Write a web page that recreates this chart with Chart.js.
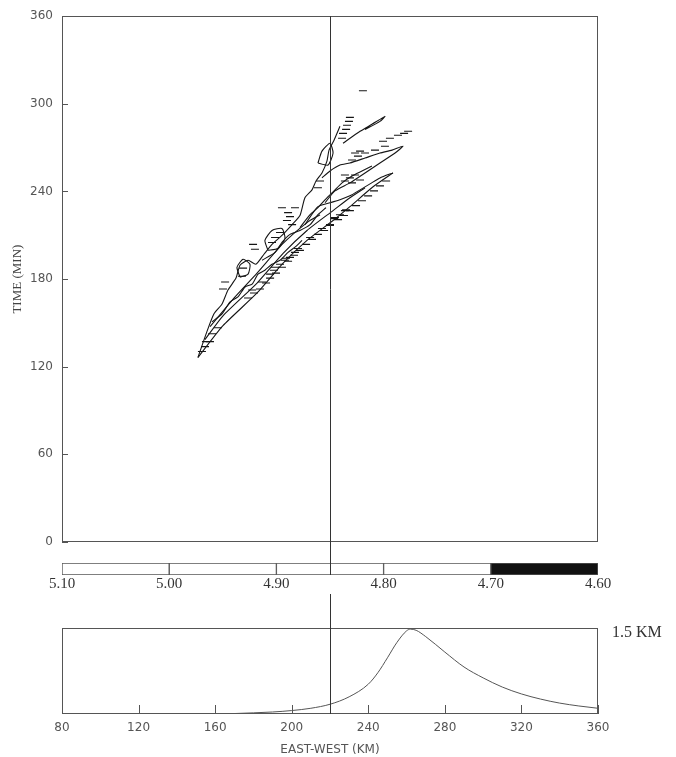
<!DOCTYPE html>
<html>
<head>
<meta charset="utf-8">
<script src="https://cdn.jsdelivr.net/npm/chart.js@4"></script>
<style>
  body{margin:0;background:#fff;width:676px;height:757px;position:relative;overflow:hidden}
  canvas{position:absolute;left:0}
</style>
</head>
<body>
<canvas id="main" width="676" height="563" style="top:0"></canvas>
<canvas id="cbar" width="676" height="38" style="top:562px"></canvas>
<canvas id="terrain" width="676" height="165" style="top:592px"></canvas>
<script>
// axis ticks
const timeTicks=[0,60,120,180,240,300,360];
const distTicks=[80,120,160,200,240,280,320,360];
const cbTicks=[5.10,5.00,4.90,4.80,4.70,4.60];
const cbColors=['#fff','#fff','#fff','#fff','#111'];
const markerKm=220;
const markerCb=4.85;

// contour streaks (km, min)
const edgeLowKm=[151.0,164.1,181.9,195.5,208.0,221.6,230.4,242.5,252.9];
const edgeLowMin=[126.3,148.1,170.5,190.9,206.5,220.1,229.6,243.2,252.7];
const edgeUpKm=[151.0,155.7,159.4,163.6,166.7,170.9,173.0,177.2,181.3,185.5,189.7,194.9,200.2,204.3,206.9,210.6,212.7,215.8,218.4,219.5,222.1,225.2];
const edgeUpMin=[126.3,144.0,156.2,163.0,172.5,180.7,189.5,192.9,190.2,197.0,203.8,209.9,217.3,223.5,235.7,241.1,247.2,252.7,260.8,268.3,275.1,284.6];
const branch1Km=[252.9,246.1,240.9,235.7,230.4,225.2,220.0,213.7,206.9];
const branch1Min=[252.7,249.3,245.2,241.1,237.0,234.3,232.3,229.6,217.3];
const branch2Km=[217.4,222.6,230.4,238.3,246.1,254.0,258.1,252.4,246.1,238.3,230.4,225.2,220.0,215.8];
const branch2Min=[232.3,240.4,245.9,252.7,259.5,266.3,271.0,268.3,266.3,262.9,259.5,258.1,254.0,249.3];
const branch3Km=[226.8,235.7,241.9,248.7,246.1,238.3];
const branch3Min=[273.0,281.2,286.0,291.4,288.0,282.5];
const inner1Km=[154.7,164.1,181.9,195.5,208.0,221.6,230.4,238.3];
const inner1Min=[138.6,154.9,177.3,197.6,213.3,226.9,235.7,242.5];
const inner2Km=[157.3,170.4,181.9,195.5,208.0,214.8];
const inner2Min=[147.4,167.8,184.1,204.4,218.7,224.1];
const inner3Km=[158.4,163.6,167.8,171.9,175.6,179.3,182.4,186.0,189.7,193.9,198.1,202.2,205.4];
const inner3Min=[150.8,156.2,164.4,167.8,174.6,176.6,183.4,186.1,190.2,192.9,198.3,202.4,206.5];
const inner4Km=[204.3,209.6,213.7,217.9,222.1,226.3,231.5,236.7,241.9];
const inner4Min=[215.3,224.1,228.9,235.0,240.4,245.9,250.6,254.0,257.4];
const inner5Km=[184.5,191.3,194.9,199.1,204.3,209.6,213.7,217.9];
const inner5Min=[192.9,198.3,205.1,210.6,213.3,217.3,224.1,228.9];
const loop1Km=[187.6,186.0,189.7,194.9,196.5,192.8,187.6];
const loop1Min=[199.7,206.5,213.3,214.6,207.8,201.0,199.7];
const loop2Km=[173.0,171.4,174.6,178.2,177.2,173.0];
const loop2Min=[181.3,188.1,193.6,190.2,183.4,181.3];
const loop3Km=[213.7,215.8,220.0,221.6,219.0,213.7];
const loop3Min=[259.5,267.6,273.0,266.3,258.1,259.5];

// short hatch strokes (km, min)
const hatchKm=[230.4,229.9,228.9,228.4,226.8,226.3,255.5,258.7,260.8,251.3,247.7,233.1,235.7,234.6,238.3,231.5,243.5,248.7,
  227.8,230.4,233.1,227.8,231.5,235.7,214.8,213.7,198.1,199.1,197.5,200.2,191.3,193.9,189.7,174.6,174.0,179.8,180.8,165.2,164.1,
  194.9,201.7,237.2,191.3,193.9,196.5,199.1,201.7,188.7,222.6,225.2,227.8,220.0,154.7,157.3,153.1,
  177.2,180.3,183.4,186.6,188.7,191.8,194.9,198.1,201.2,204.3,207.5,210.6,213.7,216.9,220.0,224.2,227.3,230.4,233.6,236.7,239.9,243.0,246.1,249.3,
  179.3,184.5,190.7,197.0,203.3,209.6,215.8,222.1,228.4,155.2,158.4,161.5];
const hatchMin=[290.7,288.0,285.3,282.5,279.8,276.4,278.5,279.8,281.2,276.4,274.4,266.3,267.6,264.2,266.3,261.5,268.3,271.0,
  251.3,249.3,251.3,247.2,245.9,247.9,247.2,242.5,225.5,222.8,220.1,217.3,208.5,211.9,205.1,187.5,182.0,203.8,200.4,178.0,173.2,
  228.9,228.9,309.0,188.1,190.2,192.9,194.9,198.3,183.4,222.1,224.1,226.9,217.3,133.8,137.2,130.4,
  167.1,170.5,173.2,177.3,180.7,184.1,188.1,192.2,196.3,199.7,203.8,207.2,210.6,213.3,216.7,220.7,223.5,226.9,230.3,233.6,237.0,240.4,243.8,247.2,
  172.5,178.0,186.1,194.3,201.0,208.5,214.6,221.4,227.5,137.2,142.6,146.7];

// terrain profile (km, height km)
const terrainKm=[80,100,120,140,160,170,180,190,200,210,220,230,240,245,250,255,260,262,265,270,280,290,300,310,320,330,340,350,360];
const terrainH=[0,0,0,0,0.003,0.008,0.02,0.035,0.06,0.10,0.17,0.30,0.52,0.72,0.98,1.25,1.45,1.48,1.46,1.35,1.08,0.82,0.63,0.47,0.35,0.26,0.19,0.14,0.10];

function pts(xs,ys){ return xs.map(function(x,i){ return {x:x,y:ys[i]}; }); }

const frame={
  id:'frame',
  afterDatasetsDraw(chart,args,o){
    const ctx=chart.ctx, a=chart.chartArea;
    ctx.save();
    ctx.lineWidth=1;
    ctx.strokeStyle='#555';
    function ln(x1,y1,x2,y2){ ctx.beginPath(); ctx.moveTo(x1,y1); ctx.lineTo(x2,y2); ctx.stroke(); }
    if(o.box){
      ctx.strokeRect(Math.round(a.left)+0.5,Math.round(a.top)+0.5,Math.round(a.width)-1,Math.round(a.height)-1);
    }
    if(o.yTicks){
      const s=chart.scales.y;
      s.ticks.forEach(function(t){ const p=Math.round(s.getPixelForValue(t.value))+0.5; ln(a.left,p,a.left+6,p); });
    }
    if(o.xTicks){
      const s=chart.scales.x;
      s.ticks.forEach(function(t){ const p=Math.round(s.getPixelForValue(t.value))+0.5; ln(p,a.bottom,p,a.bottom-9); });
    }
    if(o.marker!=null){
      ctx.strokeStyle='#333';
      const p=Math.round(chart.scales.x.getPixelForValue(o.marker))+0.5;
      ln(p,o.from!=null?o.from:a.top,p,o.to!=null?o.to:a.bottom);
    }
    ctx.restore();
  }
};
Chart.register(frame);

const streaks=[[edgeLowKm,edgeLowMin],[edgeUpKm,edgeUpMin],[branch1Km,branch1Min],[branch2Km,branch2Min],[branch3Km,branch3Min],
  [inner1Km,inner1Min],[inner2Km,inner2Min],[inner3Km,inner3Min],[inner4Km,inner4Min],[inner5Km,inner5Min],
  [loop1Km,loop1Min],[loop2Km,loop2Min],[loop3Km,loop3Min]];
let mainSets=streaks.map(function(s){
  return {data:pts(s[0],s[1]),showLine:true,borderColor:'#151515',borderWidth:1.1,pointRadius:0,tension:0.2};
});
mainSets.push({data:pts(hatchKm,hatchMin),showLine:false,pointStyle:'line',pointRadius:4,borderColor:'#151515',borderWidth:1.1});

new Chart('main',{
  type:'scatter',
  data:{datasets:mainSets},
  options:{
    responsive:false,animation:false,
    layout:{padding:{left:0,right:78,top:12,bottom:21}},
    plugins:{legend:{display:false},tooltip:{enabled:false},
      frame:{box:true,yTicks:true,marker:markerKm,to:563}},
    scales:{
      x:{type:'linear',min:80,max:360,display:false},
      y:{type:'linear',min:0,max:360,
        afterBuildTicks:function(s){ s.ticks=timeTicks.map(function(v){return {value:v};}); },
        afterFit:function(s){ s.width=62; },
        grid:{display:false,drawTicks:false},border:{display:false},
        ticks:{padding:9,color:'#555',font:{family:'DejaVu Sans',size:12}},
        title:{display:true,text:'TIME (MIN)',color:'#444',padding:{top:10,bottom:0},font:{family:'Liberation Serif',size:13}}
      }
    }
  }
});

let cbSets=[];
for(let i=0;i<cbColors.length;i++){
  cbSets.push({data:[[cbTicks[i],cbTicks[i+1]]],backgroundColor:cbColors[i],borderColor:'#555',borderWidth:1,borderSkipped:false,
    barPercentage:1,categoryPercentage:1,grouped:false});
}
new Chart('cbar',{
  type:'bar',
  data:{labels:[''],datasets:cbSets},
  options:{
    indexAxis:'y',responsive:false,animation:false,
    layout:{padding:{left:62,right:78,top:1,bottom:0}},
    plugins:{legend:{display:false},tooltip:{enabled:false},frame:{box:false,marker:markerCb}},
    scales:{
      x:{type:'linear',min:4.6,max:5.1,reverse:true,
        afterBuildTicks:function(s){ s.ticks=cbTicks.map(function(v){return {value:v};}); },
        afterFit:function(s){ s.height=25; },
        grid:{display:false,drawTicks:false},border:{display:false},
        ticks:{padding:0,color:'#333',font:{family:'Liberation Serif',size:15},callback:function(v){ return Number(v).toFixed(2); }}
      },
      y:{display:false}
    }
  }
});

new Chart('terrain',{
  type:'line',
  data:{datasets:[{data:pts(terrainKm,terrainH),borderColor:'#555',borderWidth:1,pointRadius:0,cubicInterpolationMode:'monotone',yAxisID:'y'}]},
  options:{
    responsive:false,animation:false,
    layout:{padding:{left:62,right:0,top:36,bottom:0}},
    plugins:{legend:{display:false},tooltip:{enabled:false},
      frame:{box:true,xTicks:true,marker:markerKm,from:2}},
    scales:{
      x:{type:'linear',min:80,max:360,
        afterBuildTicks:function(s){ s.ticks=distTicks.map(function(v){return {value:v};}); },
        afterFit:function(s){ s.height=43; },
        grid:{display:false,drawTicks:false},border:{display:false},
        ticks:{padding:7,color:'#555',font:{family:'DejaVu Sans',size:12}},
        title:{display:true,text:'EAST-WEST (KM)',color:'#555',padding:{top:4,bottom:0},font:{family:'DejaVu Sans',size:12}}
      },
      y:{type:'linear',min:0,max:1.5,display:false},
      y2:{type:'linear',position:'right',min:0,max:1.5,
        afterBuildTicks:function(s){ s.ticks=[{value:1.5}]; },
        afterFit:function(s){ s.width=78; },
        grid:{display:false,drawTicks:false},border:{display:false},
        ticks:{padding:14,labelOffset:5,color:'#333',font:{family:'Liberation Serif',size:16},callback:function(){ return '1.5 KM'; }}
      }
    }
  }
});
</script>
</body>
</html>
